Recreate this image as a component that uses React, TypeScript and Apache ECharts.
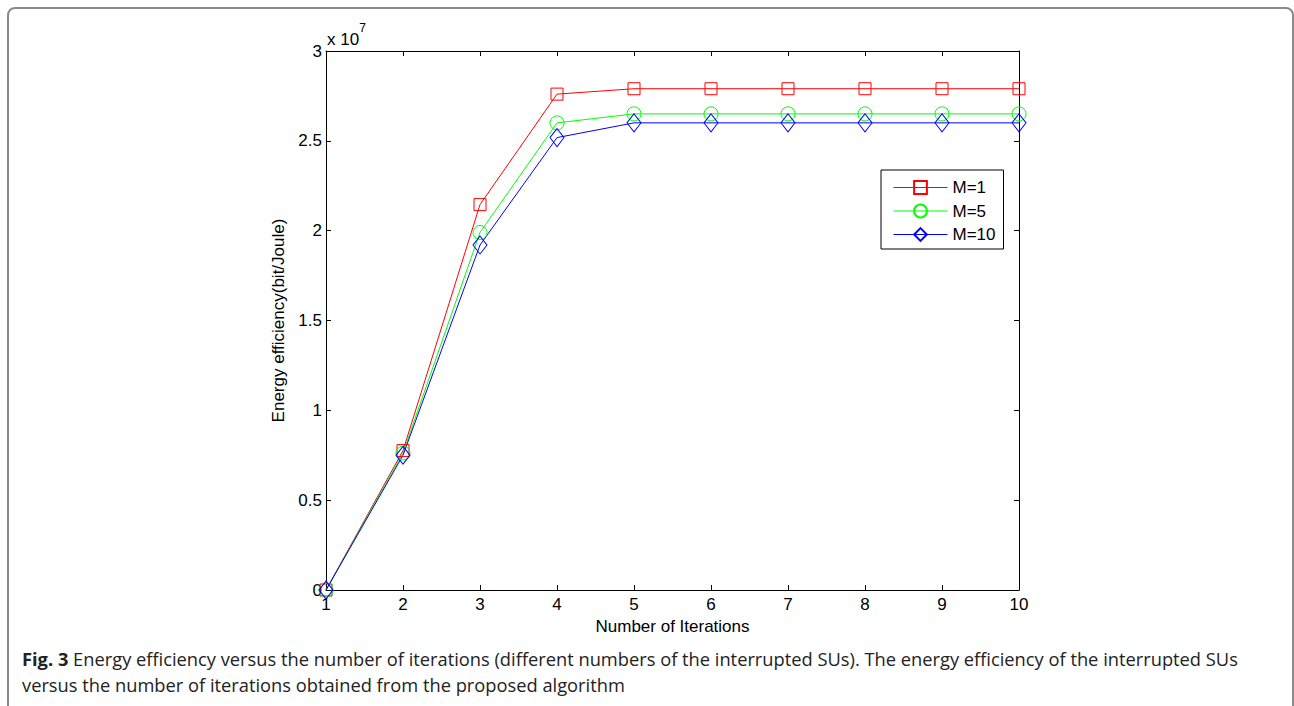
import React, { useEffect, useRef } from "react";
import * as echarts from "echarts";

// Iterations (x axis)
const iterations = [1, 2, 3, 4, 5, 6, 7, 8, 9, 10];
// Energy efficiency in units of 10^7 bit/Joule
const m1 = [0, 0.776, 2.145, 2.76, 2.79, 2.79, 2.79, 2.79, 2.79, 2.79];
const m5 = [0, 0.762, 1.99, 2.6, 2.65, 2.65, 2.65, 2.65, 2.65, 2.65];
const m10 = [0, 0.75, 1.92, 2.518, 2.6, 2.6, 2.6, 2.6, 2.6, 2.6];
const seriesNames = ["M=1", "M=5", "M=10"];
const yTickLabels: Record<string, string> = {
  "0": "0", "0.5": "0.5", "1": "1", "1.5": "1.5", "2": "2", "2.5": "2.5", "3": "3",
};

const FONT = "'Liberation Sans', Arial, sans-serif";
const CAPTION_FONT = "'Open Sans', 'Noto Sans', sans-serif";
const FS = 17;

export default function App() {
  const ref = useRef<HTMLDivElement>(null);
  useEffect(() => {
    if (!ref.current) return;
    const chart = echarts.init(ref.current, undefined, { renderer: "svg" });
    const pts = (arr: number[]) => iterations.map((x, i) => [x, arr[i]]);
    const mk = (name: string, data: number[], color: string, symbol: string, size: any) => ({
      name,
      type: "line",
      data: pts(data),
      symbol,
      symbolSize: size,
      lineStyle: { color, width: 1 },
      itemStyle: { color: "rgba(0,0,0,0)", borderColor: color, borderWidth: 1 },
      emphasis: { disabled: true },
    });
    const axisCommon = {
      axisLine: { show: true, onZero: false, lineStyle: { color: "#000", width: 1 } },
      axisTick: { show: true, inside: true, length: 5, lineStyle: { color: "#000" } },
      splitLine: { show: false },
    };
    chart.setOption({
      animation: false,
      backgroundColor: "#fff",
      grid: { left: 326, top: 51, width: 693, height: 539, containLabel: false },
      xAxis: [
        {
          type: "value", min: 1, max: 10, interval: 1, position: "bottom",
          ...axisCommon,
          axisLabel: { color: "#000", fontFamily: FONT, fontSize: FS, margin: 6 },
          name: "Number of Iterations", nameLocation: "middle", nameGap: 27,
          nameTextStyle: { color: "#000", fontFamily: FONT, fontSize: FS },
        },
        {
          type: "value", min: 1, max: 10, interval: 1, position: "top",
          ...axisCommon, axisLabel: { show: false },
        },
      ],
      yAxis: [
        {
          type: "value", min: 0, max: 3, interval: 0.5, position: "left",
          ...axisCommon,
          axisLabel: {
            color: "#000", fontFamily: FONT, fontSize: FS, margin: 4,
            formatter: (v: number) => yTickLabels[String(v)] ?? String(v),
          },
          name: "Energy efficiency(bit/Joule)", nameLocation: "middle", nameGap: 36,
          nameTextStyle: { color: "#000", fontFamily: FONT, fontSize: FS },
        },
        {
          type: "value", min: 0, max: 3, interval: 0.5, position: "right",
          ...axisCommon, axisLabel: { show: false },
        },
      ],
      legend: {
        orient: "vertical", left: 881, top: 170,
        data: seriesNames,
        backgroundColor: "#fff", borderColor: "#000", borderWidth: 1,
        padding: [9, 8, 6, 12], itemGap: 6.5, itemWidth: 54, itemHeight: 16,
        lineStyle: { width: 1 },
        textStyle: { color: "#000", fontFamily: FONT, fontSize: FS },
        selectedMode: false,
      },
      graphic: [
        {
          type: "text", left: 327, top: 22,
          style: {
            text: "{a|x 10}{b|7}",
            rich: {
              a: { fontFamily: FONT, fontSize: FS, fill: "#000", verticalAlign: "bottom", padding: [9, 0, 0, 0] },
              b: { fontFamily: FONT, fontSize: 12, fill: "#000", verticalAlign: "top" },
            },
          },
        },
        {
          type: "text", left: 22, top: 645,
          style: {
            text: "{b|Fig. 3} Energy efficiency versus the number of iterations (different numbers of the interrupted SUs). The energy efficiency of the interrupted SUs\nversus the number of iterations obtained from the proposed algorithm",
            fontFamily: CAPTION_FONT, fontSize: 18.3, fill: "#222", lineHeight: 26,
            rich: { b: { fontFamily: CAPTION_FONT, fontSize: 18.3, fontWeight: "bold", fill: "#222", lineHeight: 26 } },
          },
        },
      ],
      series: [
        mk("M=1", m1, "#ff0000", "rect", 12),
        mk("M=5", m5, "#00ff00", "circle", 14),
        mk("M=10", m10, "#0000ff", "diamond", [14, 18]),
      ],
    });
    return () => chart.dispose();
  }, []);
  return (
    <div style={{ position: "fixed", left: 0, top: 0, width: 1294, height: 706, background: "#fff" }}>
      <div ref={ref} style={{ position: "absolute", left: 0, top: 0, width: 1294, height: 706 }} />
      <div
        style={{
          position: "absolute", left: 7, top: 7, width: 1283, height: 720,
          border: "2px solid #8a8a8a", borderRadius: 8, pointerEvents: "none",
        }}
      />
    </div>
  );
}
